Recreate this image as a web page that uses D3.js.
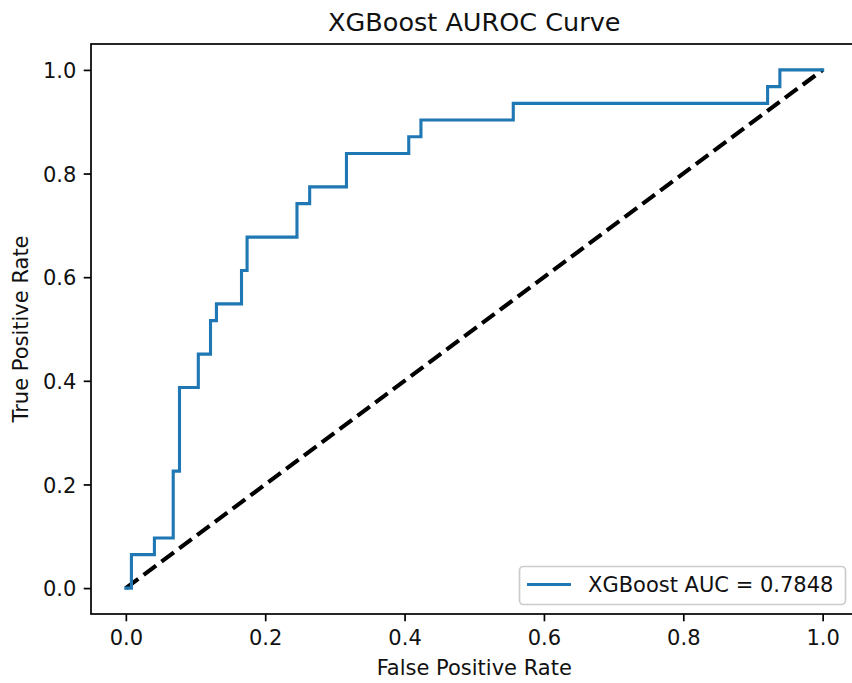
<!DOCTYPE html>
<html>
<head>
<meta charset="utf-8">
<script src="https://cdn.jsdelivr.net/npm/d3@7"></script>
<style>
  html, body { margin: 0; padding: 0; background: #ffffff; }
  svg { display: block; font-family: "DejaVu Sans", sans-serif; }
</style>
</head>
<body>
<svg id="chart" width="852" height="683"></svg>
<script>
// ---- data ----
const fpr = [0, 0.008, 0.008, 0.041, 0.041, 0.068, 0.068, 0.077, 0.077, 0.104, 0.104,
             0.1215, 0.1215, 0.13, 0.13, 0.166, 0.166, 0.174, 0.174, 0.2456, 0.2456,
             0.2638, 0.2638, 0.3166, 0.3166, 0.406, 0.406, 0.4235, 0.4235, 0.556, 0.556,
             0.921, 0.921, 0.9386, 0.9386, 1.0];
const tpr = [0, 0, 0.0645, 0.0645, 0.0968, 0.0968, 0.2258, 0.2258, 0.3871, 0.3871, 0.4516,
             0.4516, 0.5161, 0.5161, 0.5484, 0.5484, 0.6129, 0.6129, 0.6774, 0.6774, 0.7419,
             0.7419, 0.7742, 0.7742, 0.8387, 0.8387, 0.871, 0.871, 0.9032, 0.9032, 0.9355,
             0.9355, 0.9677, 0.9677, 1.0, 1.0];
const chanceX = [0, 1];
const chanceY = [0, 1];
const tickValues = [0.0, 0.2, 0.4, 0.6, 0.8, 1.0];
const titleText = "XGBoost AUROC Curve";
const xLabel = "False Positive Rate";
const yLabel = "True Positive Rate";
const legendLabel = "XGBoost AUC = 0.7848";

// ---- layout ----
const svg = d3.select("#chart");
const L = 91, R = 857.5, T = 44, B = 614;
const x = d3.scaleLinear().domain([-0.05, 1.05]).range([L, R]);
const y = d3.scaleLinear().domain([-0.05, 1.05]).range([B, T]);
const fs = 21;
const txt = "#111111";

const clipId = "plotclip";
svg.append("defs").append("clipPath").attr("id", clipId)
  .append("rect").attr("x", L).attr("y", T).attr("width", R - L).attr("height", B - T);

const plot = svg.append("g").attr("clip-path", `url(#${clipId})`);

// chance line
const line = d3.line().x(d => x(d[0])).y(d => y(d[1]));
plot.append("path")
  .datum(chanceX.map((v, i) => [v, chanceY[i]]))
  .attr("d", line)
  .attr("fill", "none")
  .attr("stroke", "#000000")
  .attr("stroke-width", 4.2)
  .attr("stroke-dasharray", "15.5,6.7");

// ROC curve
plot.append("path")
  .datum(fpr.map((v, i) => [v, tpr[i]]))
  .attr("d", line)
  .attr("fill", "none")
  .attr("stroke", "#1f77b4")
  .attr("stroke-width", 3.1)
  .attr("stroke-linejoin", "miter")
  .attr("stroke-linecap", "square");

// axes
const xAxis = d3.axisBottom(x).tickValues(tickValues).tickFormat(d3.format(".1f"))
  .tickSizeInner(7.3).tickSizeOuter(0).tickPadding(7.3);
const yAxis = d3.axisLeft(y).tickValues(tickValues).tickFormat(d3.format(".1f"))
  .tickSizeInner(7.3).tickSizeOuter(0).tickPadding(7.3);

const gx = svg.append("g").attr("transform", `translate(0,${B})`).call(xAxis);
const gy = svg.append("g").attr("transform", `translate(${L},0)`).call(yAxis);
[gx, gy].forEach(g => {
  g.select(".domain").remove();
  g.selectAll(".tick line").attr("stroke", "#000").attr("stroke-width", 1.7);
  g.selectAll(".tick text").attr("fill", txt)
    .style("font-family", "DejaVu Sans").style("font-size", fs + "px");
});
gx.selectAll(".tick text").attr("dy", null).attr("y", 30.5);
gy.selectAll(".tick text").attr("dy", "0.36em");

// spines
svg.append("rect").attr("x", L).attr("y", T).attr("width", R - L).attr("height", B - T)
  .attr("fill", "none").attr("stroke", "#000").attr("stroke-width", 1.7);

// title and labels
svg.append("text").attr("x", (L + R) / 2).attr("y", 31).attr("text-anchor", "middle")
  .style("font-size", "25.5px").attr("fill", txt).text(titleText);
svg.append("text").attr("x", (L + R) / 2).attr("y", 675).attr("text-anchor", "middle")
  .style("font-size", fs + "px").attr("fill", txt).text(xLabel);
svg.append("text").attr("transform", `translate(28,${(T + B) / 2}) rotate(-90)`)
  .attr("text-anchor", "middle").style("font-size", fs + "px").attr("fill", txt).text(yLabel);

// legend
const lg = svg.append("g");
lg.append("rect").attr("x", 519.5).attr("y", 566.5).attr("width", 326).attr("height", 38)
  .attr("rx", 4).attr("ry", 4)
  .attr("fill", "#ffffff").attr("fill-opacity", 0.8)
  .attr("stroke", "#cccccc").attr("stroke-width", 1.7);
lg.append("line").attr("x1", 527).attr("x2", 571).attr("y1", 584.5).attr("y2", 584.5)
  .attr("stroke", "#1f77b4").attr("stroke-width", 3.1);
lg.append("text").attr("x", 588).attr("y", 584.5).attr("dy", "0.36em")
  .style("font-size", fs + "px").attr("fill", txt).text(legendLabel);
</script>
</body>
</html>
